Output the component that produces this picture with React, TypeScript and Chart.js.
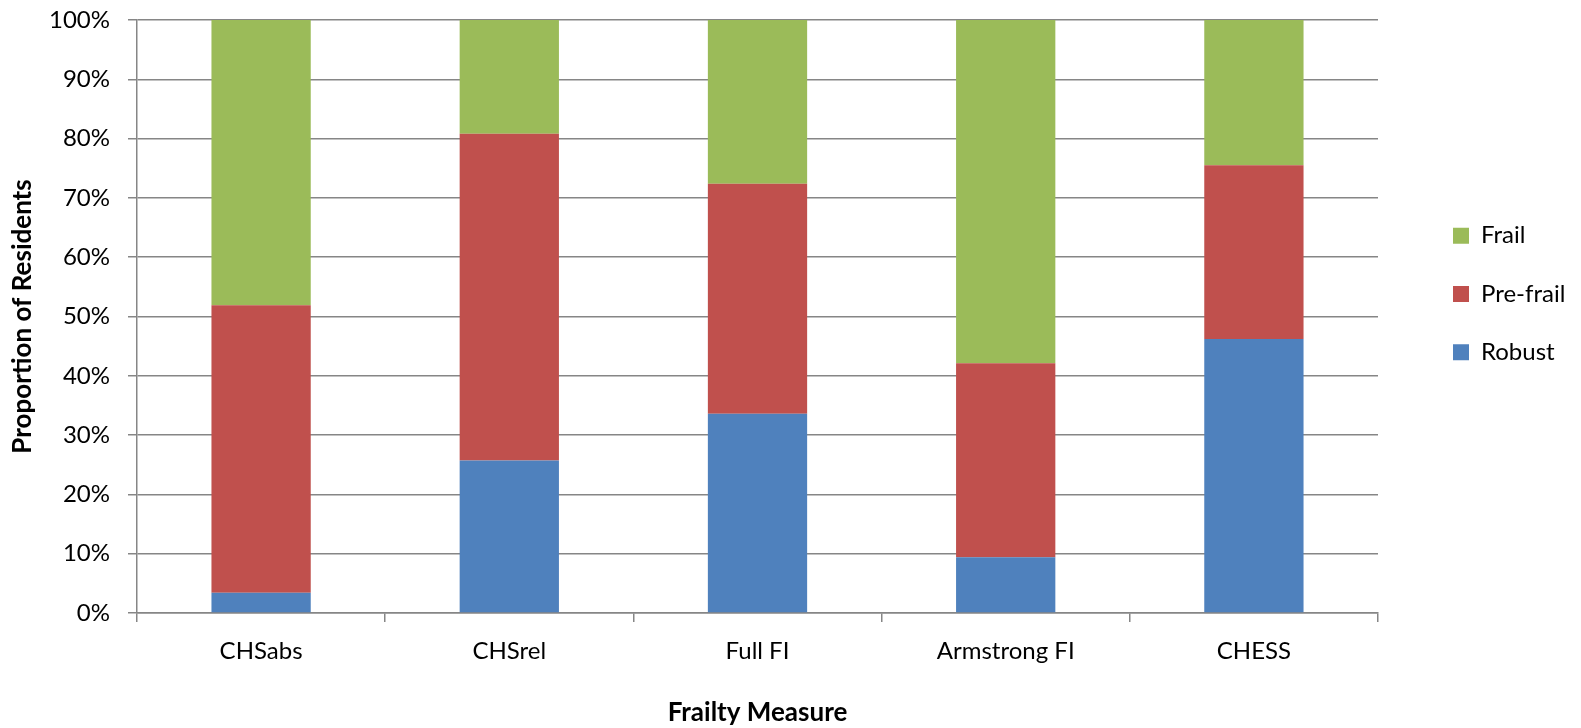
import React, { useEffect, useRef } from "react";
import { Chart, registerables } from "chart.js";

Chart.register(...registerables);

const categories = ["CHSabs", "CHSrel", "Full FI", "Armstrong FI", "CHESS"];
const robust = [3.4, 25.7, 33.6, 9.4, 46.2];
const preFrail = [48.5, 55.1, 38.8, 32.7, 29.3];
const frail = [48.1, 19.2, 27.6, 57.9, 24.5];
const yTicks = [0, 10, 20, 30, 40, 50, 60, 70, 80, 90, 100];

const FONT = "Lato";
const GRID = "#868686";

const legendPlace = {
  id: "legendPlace",
  afterLayout(chart: any) {
    const lg = chart.legend;
    if (!lg) return;
    const pad = lg.options.labels.padding;
    const w = 200;
    lg.left = 1453 - pad;
    lg.right = lg.left + w;
    lg.width = w;
    const centre = 294;
    const h = 600;
    lg.top = centre - h / 2;
    lg.bottom = centre + h / 2;
    lg.height = h;
  },
};

export default function App() {
  const ref = useRef<HTMLCanvasElement>(null);
  useEffect(() => {
    if (!ref.current) return;
    Chart.defaults.font.family = FONT;
    Chart.defaults.color = "#000";
    const chart = new Chart(ref.current, {
      type: "bar",
      data: {
        labels: categories,
        datasets: [
          { label: "Robust", data: robust, backgroundColor: "#4F81BD", borderWidth: 0 },
          { label: "Pre-frail", data: preFrail, backgroundColor: "#C0504D", borderWidth: 0 },
          { label: "Frail", data: frail, backgroundColor: "#9BBB59", borderWidth: 0 },
        ],
      },
      plugins: [legendPlace],
      options: {
        animation: false,
        responsive: true,
        maintainAspectRatio: false,
        layout: { padding: { top: 20, left: 0, bottom: 0, right: 83 } },
        datasets: { bar: { categoryPercentage: 1, barPercentage: 0.4 } },
        plugins: {
          tooltip: { enabled: false },
          legend: {
            position: "right",
            reverse: true,
            maxWidth: 120,
            labels: {
              boxWidth: 16,
              boxHeight: 16,
              padding: 34.3,
              font: { size: 24, family: FONT },
              color: "#000",
            },
          },
        },
        scales: {
          x: {
            stacked: true,
            grid: {
              display: true,
              drawOnChartArea: false,
              drawTicks: true,
              tickLength: 9,
              color: GRID,
              lineWidth: 1.5,
              offset: true,
            },
            border: { display: true, color: GRID, width: 1.5 },
            ticks: { font: { size: 24, family: FONT }, padding: 15, color: "#000", maxRotation: 0 },
            title: {
              display: true,
              text: "Frailty Measure",
              font: { size: 26, weight: "bold", family: FONT },
              color: "#000",
              padding: { top: 0, bottom: 0 },
            },
            afterFit: (s: any) => {
              s.height = 115;
              s.paddingLeft = 0;
              s.paddingRight = 0;
            },
          },
          y: {
            stacked: true,
            min: 0,
            max: 100,
            grid: {
              color: GRID,
              lineWidth: 1.5,
              tickLength: 9,
              drawTicks: true,
            },
            border: { display: true, color: GRID, width: 1.5 },
            afterBuildTicks: (s: any) => {
              s.ticks = yTicks.map((v) => ({ value: v }));
            },
            ticks: {
              font: { size: 24, family: FONT },
              padding: 18,
              color: "#000",
              callback: (v: any) => v + "%",
            },
            title: {
              display: true,
              text: "Proportion of Residents",
              font: { size: 26, weight: "bold", family: FONT },
              color: "#000",
              padding: { top: 7.5, bottom: 0 },
            },
            afterFit: (s: any) => {
              s.width = 137;
              s.paddingTop = 0;
              s.paddingBottom = 0;
            },
          },
        },
      },
    });
    return () => chart.destroy();
  }, []);
  return (
    <div style={{ position: "absolute", left: 0, top: 0, width: 1581, height: 728, background: "#fff" }}>
      <canvas ref={ref} />
    </div>
  );
}
